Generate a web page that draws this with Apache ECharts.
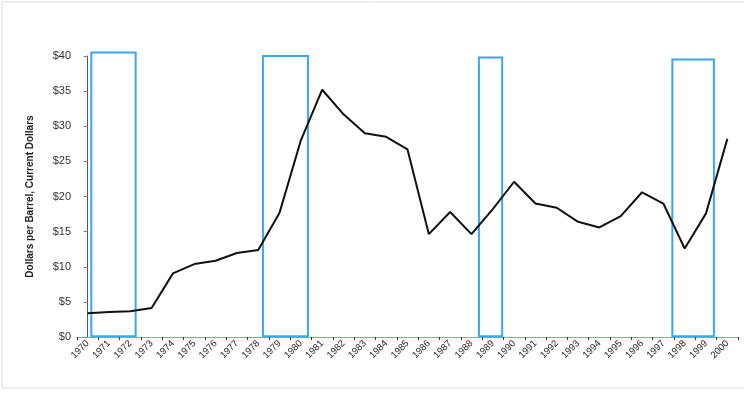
<!DOCTYPE html>
<html><head><meta charset="utf-8">
<script src="https://cdn.jsdelivr.net/npm/echarts@6/dist/echarts.min.js"></script>
<style>html,body{margin:0;padding:0;background:#fff}#c{width:744px;height:393px}</style>
</head><body><div id="c"></div>
<script>
const years = ['1970','1971','1972','1973','1974','1975','1976','1977','1978','1979','1980','1981','1982','1983','1984','1985','1986','1987','1988','1989','1990','1991','1992','1993','1994','1995','1996','1997','1998','1999','2000'];
const prices = [3.39,3.56,3.65,4.12,9.06,10.38,10.86,11.95,12.38,17.7,28.0,35.2,31.7,29.0,28.5,26.7,14.65,17.8,14.65,18.2,22.1,19.0,18.4,16.4,15.6,17.2,20.6,19.0,12.6,17.6,28.2];
// boxes on category-index scale (0 = 1970)
const boxStart = [0.17, 8.22, 18.35, 27.42];
const boxEnd   = [2.25, 10.33, 19.44, 29.37];
const boxTop   = [40.5, 40.0, 39.8, 39.5];

const chart = echarts.init(document.getElementById('c'));
const boxData = boxStart.map((s,i)=>[s, boxEnd[i], boxTop[i]]);
chart.setOption({
  animation:false,
  backgroundColor:'#fff',
  graphic:[{type:'rect',shape:{x:2,y:2,width:760,height:386},style:{fill:'none',stroke:'#dcdcdc',lineWidth:1},z:-1}],
  grid:{left:77,right:6,top:56,bottom:56},
  xAxis:[{
    type:'category',data:years,boundaryGap:true,
    axisLine:{lineStyle:{color:'#d48a8a',width:1}},
    axisTick:{show:true,length:3,lineStyle:{color:'#333'},alignWithLabel:false},
    axisLabel:{rotate:45,fontSize:9.5,color:'#222',margin:5,interval:0,fontFamily:'Liberation Sans'}
  },{
    type:'value',min:-0.5,max:30.5,show:false
  }],
  yAxis:{
    type:'value',min:0,max:40,interval:5,
    name:'Dollars per Barrel, Current Dollars',nameLocation:'middle',nameGap:42,
    nameTextStyle:{fontSize:10,fontWeight:'bold',color:'#222',fontFamily:'Liberation Sans Narrow, Liberation Sans'},
    axisLine:{show:true,lineStyle:{color:'#2c6b5c',width:1}},
    axisTick:{show:true,length:4,lineStyle:{color:'#c86060'}},
    axisLabel:{formatter:'${value}',fontSize:11,color:'#333',margin:6,fontFamily:'Liberation Sans'},
    splitLine:{show:false}
  },
  series:[{
    type:'custom',xAxisIndex:1,data:boxData,clip:false,silent:true,
    encode:{x:[0,1],y:2},
    renderItem:function(params,api){
      const p1=api.coord([api.value(0),api.value(2)]);
      const p2=api.coord([api.value(1),0.1]);
      return {type:'rect',shape:{x:p1[0],y:p1[1],width:p2[0]-p1[0],height:p2[1]-p1[1]},
        style:{fill:'none',stroke:'#3aa6f5',lineWidth:2}};
    }
  },{
    type:'line',data:prices,symbol:'none',z:5,
    lineStyle:{color:'#111',width:2}
  }]
});
</script></body></html>
